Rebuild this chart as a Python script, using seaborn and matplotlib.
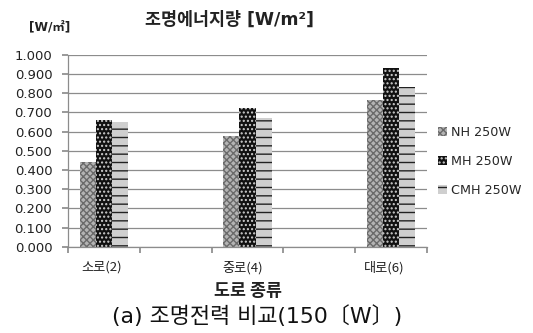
import matplotlib
matplotlib.use("Agg")
import matplotlib.pyplot as plt
import matplotlib.patches as mpatches
import seaborn as sns
import pandas as pd

# Road categories (blank slots separate the three groups on the axis)
categories = ["소로(2)", "중로(4)", "대로(6)"]
axis_order = ["소로(2)", "_gap1", "중로(4)", "_gap2", "대로(6)"]
lamps = ["NH 250W", "MH 250W", "CMH 250W"]
nh_values = [0.44, 0.58, 0.765]
mh_values = [0.66, 0.725, 0.93]
cmh_values = [0.65, 0.67, 0.835]
y_ticks = [0.0, 0.1, 0.2, 0.3, 0.4, 0.5, 0.6, 0.7, 0.8, 0.9, 1.0]

df = pd.DataFrame({
    "road": categories * 3,
    "lamp": [lamps[0]] * 3 + [lamps[1]] * 3 + [lamps[2]] * 3,
    "value": nh_values + mh_values + cmh_values,
})

sns.set_theme(style="white")
kr = ["Noto Sans CJK KR", "DejaVu Sans"]
mixed = ["DejaVu Sans", "Noto Sans CJK KR"]
plt.rcParams["font.family"] = kr
plt.rcParams["hatch.linewidth"] = 1.0

fig = plt.figure(figsize=(5.33, 3.33), dpi=100)
ax = fig.add_axes([0.128, 0.259, 0.673, 0.576])

styles = {
    "NH 250W": dict(face="#b4b4b4", hatch="xxxxx", hc="#6a6a6a"),
    "MH 250W": dict(face="#111111", hatch="....", hc="#d0d0d0"),
    "CMH 250W": dict(face="#cfcfcf", hatch="--", hc="#222222"),
}

sns.barplot(data=df, x="road", y="value", hue="lamp", order=axis_order,
            hue_order=lamps, width=0.68, gap=0, ax=ax, legend=False,
            palette=["#b4b4b4", "#111111", "#cfcfcf"])

for container, lamp in zip(ax.containers, lamps):
    st = styles[lamp]
    for bar in container:
        bar.set_facecolor(st["face"])
        bar.set_hatch(st["hatch"])
        bar.set_edgecolor(st["hc"])
        bar.set_linewidth(0)

ax.set_ylim(0, 1.0)
ax.set_xlim(-0.5, 4.5)
ax.set_yticks(y_ticks)
ax.set_yticklabels([f"{v:.3f}" for v in y_ticks], fontsize=9.5, family="DejaVu Sans", color="#222222")
ax.yaxis.grid(True, color="#8c8c8c", linewidth=0.9)
ax.set_axisbelow(True)

# category boundaries carry tick marks; labels sit between them
ax.set_xticks([-0.5, 0.5, 1.5, 2.5, 3.5, 4.5])
ax.set_xticklabels([])
ax.set_xticks([-0.03, 1.93, 3.9], minor=True)
ax.set_xticklabels(categories, minor=True, fontsize=9.5, color="#222222", family=kr)
ax.tick_params(axis="x", which="major", length=4, color="#8c8c8c", direction="out", bottom=True)
ax.tick_params(axis="x", which="minor", length=0, pad=10)
ax.tick_params(axis="y", length=4, color="#8c8c8c", direction="out", left=True, pad=7.5)

for side in ["top", "right"]:
    ax.spines[side].set_visible(False)
for side in ["left", "bottom"]:
    ax.spines[side].set_color("#8c8c8c")
    ax.spines[side].set_linewidth(0.9)

ax.set_xlabel("")
ax.set_ylabel("")

fig.text(0.43, 0.94, "조명에너지량 [W/m²]", ha="center", va="center",
         fontsize=12.5, fontweight="bold", color="#222222", family=mixed)
fig.text(0.094, 0.918, "[W/㎡]", ha="center", va="center",
         fontsize=8.8, fontweight="bold", color="#222222", family=mixed)
fig.text(0.465, 0.125, "도로 종류", ha="center", va="center",
         fontsize=12.5, fontweight="bold", color="#222222")
fig.text(0.482, 0.052, "(a) 조명전력 비교(150〔W〕)", ha="center", va="center",
         fontsize=15.8, color="#111111", family=mixed)

handles = []
for lamp in lamps:
    st = styles[lamp]
    handles.append(mpatches.Patch(facecolor=st["face"], hatch=st["hatch"],
                                  edgecolor=st["hc"], linewidth=0, label=lamp))
fig.legend(handles=handles, loc="center left", bbox_to_anchor=(0.8, 0.515),
           frameon=False, handlelength=0.7, handleheight=0.7,
           handletextpad=0.3, labelspacing=1.25, prop={"family": "DejaVu Sans", "size": 9.2})

fig.savefig("out.png", dpi=100)
